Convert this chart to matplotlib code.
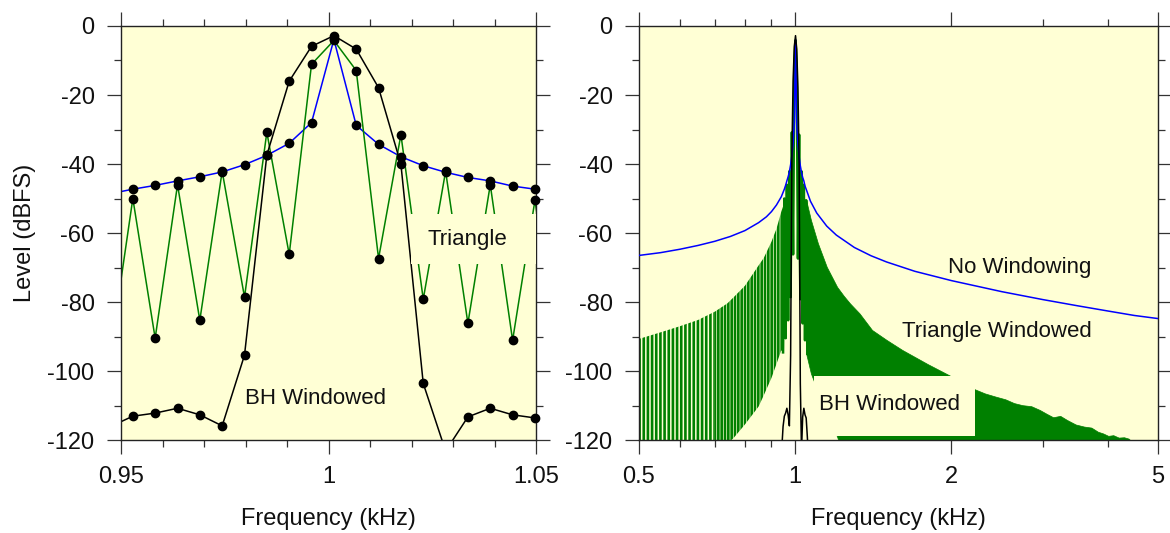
import numpy as np
import matplotlib
matplotlib.use('Agg')
import matplotlib.pyplot as plt
from matplotlib.patches import Rectangle
from matplotlib.ticker import FixedLocator, MultipleLocator, NullFormatter, FixedFormatter

plt.rcParams['font.family'] = ['Liberation Sans', 'DejaVu Sans']
plt.rcParams['axes.unicode_minus'] = False
plt.rcParams['hatch.linewidth'] = 1.9

BG = '#ffffd5'
BLUE = '#0000ff'
GREEN = '#008000'
INK = '#111111'

# FFT bin frequencies around 1 kHz (kHz)
bin_khz = [0.94746, 0.95285, 0.95823, 0.96362, 0.96899, 0.97438, 0.97976,
           0.98514, 0.99053, 0.99591, 1.00130, 1.00668, 1.01206, 1.01745,
           1.02283, 1.02822, 1.03359, 1.03898, 1.04436, 1.04975, 1.05513]
nowin_db = [-48.6, -47.3, -46.2, -44.9, -43.7, -42.3, -40.2, -37.5, -34.0, -28.0, -3.9,
            -28.8, -34.3, -37.9, -40.5, -42.4, -43.9, -44.9, -46.4, -47.3, -48.2]
tri_db = [-94.6, -50.0, -90.5, -46.0, -85.3, -42.1, -78.6, -30.8, -66.2, -11.1, -4.2,
          -12.9, -67.4, -31.5, -79.2, -42.1, -86.2, -46.0, -91.1, -50.5, -95.0]
bh_db = [-116.1, -113.1, -112.2, -110.8, -112.7, -115.9, -95.4, -37.4, -16.0, -5.9, -2.8,
         -6.7, -17.9, -40.1, -103.6, -123.2, -113.3, -110.8, -112.7, -113.6, -119.0]

# wide view: no windowing, away from the centre bins
nowin_lo_khz = [0.5, 0.55, 0.6, 0.65, 0.7, 0.75, 0.8, 0.85, 0.88, 0.9, 0.92, 0.94]
nowin_lo_db = [-66.5, -65.7, -64.7, -63.6, -62.4, -61.0, -59.3, -57.0, -55.3, -53.8, -51.9, -49.5]
nowin_hi_khz = [1.07, 1.1, 1.15, 1.2, 1.3, 1.4, 1.5, 1.7, 2.0, 2.5, 3.0, 3.5, 4.0, 4.5, 5.0]
nowin_hi_db = [-50.8, -54.2, -58.0, -60.6, -64.2, -66.6, -68.4, -71.1, -73.8, -77.0,
               -79.3, -81.1, -82.6, -83.9, -84.8]

# wide view: triangle window comb, envelopes below the centre
tri_lo_khz = [0.5, 0.55, 0.6, 0.65, 0.7, 0.74, 0.76, 0.8, 0.85, 0.87, 0.9, 0.92, 0.94, 0.9475]
tri_lo_top = [-90.7, -88.8, -87.0, -85.2, -82.8, -80.4, -78.7, -75.3, -69.4, -67.2, -62.5,
              -58.8, -53.8, -52.3]
tri_lo_bot = [-125, -125, -125, -125, -125, -121, -119.5, -115.5, -110.3, -107, -102,
              -98, -94, -94.6]
# triangle window comb, above the centre
tri_hi_khz = [1.0498, 1.072, 1.106, 1.15, 1.204, 1.24, 1.275, 1.33, 1.406, 1.5, 1.608,
              1.8, 1.99, 2.1, 2.218, 2.32, 2.43, 2.54, 2.64, 2.74, 2.85, 2.96, 3.05,
              3.14, 3.24, 3.34, 3.47, 3.60, 3.72, 3.83, 3.92, 4.01, 4.10, 4.20, 4.30,
              4.39, 4.45]
tri_hi_top = [-50.5, -56.2, -63.0, -69.8, -75.6, -78.2, -80.4, -83.3, -88.1, -91.0, -93.9,
              -98.0, -101.4, -103.3, -105.3, -106.5, -107.4, -108.2, -109.3, -109.9, -110.2,
              -111.3, -112.4, -113.4, -113.0, -114.2, -115.5, -116.1, -116.4, -117.6, -118.1,
              -118.8, -118.6, -119.3, -119.2, -119.6, -120.5]
tri_hi_bot = [-95.0, -100.7, -106.0, -112.5, -119.0] + [-125.0] * 32

# BH extends just past the centre bins in the wide view
bh_edge_khz = [0.94208, 1.06052]
bh_edge_db = [-122.5, -125.0]


def style_axes(ax):
    ax.set_facecolor(BG)
    for s in ax.spines.values():
        s.set_color('#222222')
        s.set_linewidth(1.0)
    ax.tick_params(which='both', direction='out', top=True, right=True,
                   color='#333333', labelsize=17, labelcolor=INK, pad=9)
    ax.tick_params(which='major', length=10, width=0.9)
    ax.tick_params(which='minor', length=5, width=0.9)
    ax.set_ylim(-120, 0)
    ax.yaxis.set_major_locator(MultipleLocator(20))
    ax.yaxis.set_minor_locator(MultipleLocator(10))
    ax.set_xlabel('Frequency (kHz)', fontsize=17, color=INK)
    ax.xaxis.set_label_coords(0.5, -0.165)


fig = plt.figure(figsize=(11.7, 5.33), dpi=100)
ax1 = fig.add_axes([0.10342, 0.17448, 0.35470, 0.77674])
ax2 = fig.add_axes([0.54615, 0.17448, 0.44359, 0.77674])

# ---- left: zoom on bins ----
f = np.array(bin_khz)
ax1.plot(f, nowin_db, color=BLUE, lw=1.1, zorder=2)
ax1.plot(f, tri_db, color=GREEN, lw=1.1, zorder=2)
ax1.plot(f, bh_db, color='black', lw=1.1, zorder=2)
ax1.add_patch(Rectangle((1.0199, -69.1), 0.04, 14.7, facecolor=BG, edgecolor='none', zorder=3))
for db in (nowin_db, tri_db, bh_db):
    db = np.array(db)
    m = (f >= 0.95) & (f <= 1.05) & (db >= -120)
    ax1.plot(f[m], db[m], 'o', color='black', ms=6, zorder=4, clip_on=False)
ax1.text(1.0335, -63.4, 'Triangle', fontsize=16, ha='center', va='baseline', color=INK, zorder=5)
ax1.text(0.9969, -109.6, 'BH Windowed', fontsize=16, ha='center', va='baseline', color=INK, zorder=5)

style_axes(ax1)
ax1.set_xlim(0.95, 1.05)
ax1.xaxis.set_major_locator(FixedLocator([0.95, 1.0, 1.05]))
ax1.xaxis.set_major_formatter(FixedFormatter(['0.95', '1', '1.05']))
ax1.xaxis.set_minor_locator(MultipleLocator(0.01))
ax1.set_ylabel('Level (dBFS)', fontsize=17, color=INK)
ax1.yaxis.set_label_coords(-0.205, 0.5)

# ---- right: wide log view ----
ax2.set_xscale('log')
lo = np.array(tri_lo_khz)
# comb teeth below the centre drawn as hatching, denser towards 1 kHz
for a, b, h in [(0.5, 0.7, '||||'), (0.7, 0.9475, '|||||')]:
    ax2.fill_between(lo, tri_lo_bot, tri_lo_top, where=(lo >= a) & (lo <= b),
                     facecolor='none', edgecolor=GREEN, hatch=h, lw=0, zorder=1)
ax2.fill_between(tri_hi_khz, tri_hi_bot, tri_hi_top, facecolor=GREEN, edgecolor=GREEN,
                 lw=0.5, zorder=1)
ax2.plot(f, tri_db, color=GREEN, lw=1.8, zorder=1)
ax2.add_patch(Rectangle((1.087, -118.7), 1.131, 17.3, facecolor=BG, edgecolor='none', zorder=2))

nw_f = nowin_lo_khz + bin_khz[1:-1] + nowin_hi_khz
nw_db = nowin_lo_db + nowin_db[1:-1] + nowin_hi_db
ax2.plot(nw_f, nw_db, color=BLUE, lw=1.1, zorder=3)
bh_f = bh_edge_khz[:1] + bin_khz + bh_edge_khz[1:]
bh_w = bh_edge_db[:1] + bh_db + bh_edge_db[1:]
ax2.plot(bh_f, bh_w, color='black', lw=1.1, zorder=4)

ax2.text(2.71, -71.6, 'No Windowing', fontsize=16, ha='center', va='baseline', color=INK, zorder=5)
ax2.text(2.445, -90.1, 'Triangle Windowed', fontsize=16, ha='center', va='baseline', color=INK, zorder=5)
ax2.text(1.52, -111.3, 'BH Windowed', fontsize=16, ha='center', va='baseline', color=INK, zorder=5)

style_axes(ax2)
ax2.set_xlim(0.5, 5)
ax2.xaxis.set_major_locator(FixedLocator([0.5, 1, 2, 5]))
ax2.xaxis.set_major_formatter(FixedFormatter(['0.5', '1', '2', '5']))
ax2.xaxis.set_minor_locator(FixedLocator([0.6, 0.7, 0.8, 0.9, 3, 4]))
ax2.xaxis.set_minor_formatter(NullFormatter())

fig.savefig('out.png', dpi=100, facecolor='white')
